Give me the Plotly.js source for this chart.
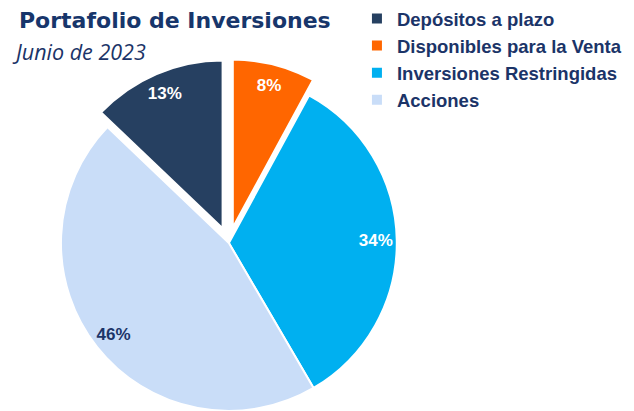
<!DOCTYPE html>
<html>
<head>
<meta charset="utf-8">
<script src="https://cdn.plot.ly/plotly-3.0.1.min.js"></script>
<style>
  html, body { margin: 0; padding: 0; overflow: hidden; background: #fff; }
</style>
</head>
<body>
<div id="chart" style="width:634px;height:440px;"></div>
<script>
document.addEventListener("DOMContentLoaded", function() {
    // Portafolio a junio 2023 (%)
    const categorias = ['Depósitos a plazo', 'Disponibles para la Venta', 'Inversiones Restringidas', 'Acciones'];
    const porcentajes = [13, 8, 34, 46];
    const colores = ['#264061', '#FF6600', '#00B0F0', '#C9DDF8'];
    const coloresTexto = ['#ffffff', '#ffffff', '#ffffff', '#1B3468'];
    const separados = [0.095, 0.095, 0, 0];

    const total = porcentajes.reduce((a, b) => a + b, 0);
    // el primer sector termina en las 12
    const rotacion = -porcentajes[0] / total * 360;
    const dominio = { x: [0.071, 0.651], y: [0.0295, 0.866] };

    const torta = {
        type: 'pie',
        labels: categorias,
        values: porcentajes,
        sort: false,
        direction: 'clockwise',
        rotation: rotacion,
        pull: separados,
        marker: { colors: colores, line: { color: '#ffffff', width: 2 } },
        textinfo: 'none',
        hoverinfo: 'label+percent',
        domain: dominio
    };

    // misma torta transparente con hueco, solo para poner las etiquetas cerca del borde
    const etiquetas = {
        type: 'pie',
        labels: categorias,
        values: porcentajes,
        sort: false,
        direction: 'clockwise',
        rotation: rotacion,
        pull: separados,
        hole: 0.75,
        showlegend: false,
        marker: { colors: colores.map(() => 'rgba(0,0,0,0)'), line: { width: 0 } },
        texttemplate: '%{value}%',
        textposition: 'inside',
        insidetextorientation: 'horizontal',
        textfont: { family: 'Liberation Sans, Arial, sans-serif', size: 17, color: coloresTexto, weight: 'bold' },
        hoverinfo: 'skip',
        domain: dominio
    };

    const layout = {
        width: 634,
        height: 440,
        margin: { l: 0, r: 0, t: 0, b: 0 },
        paper_bgcolor: '#ffffff',
        showlegend: true,
        legend: {
            x: 0.563, y: 1, xanchor: 'left', yanchor: 'top',
            traceorder: 'normal',
            font: { family: 'Liberation Sans, Arial, sans-serif', size: 18.5, color: '#1B3468', weight: 'bold' }
        },
        annotations: [
            {
                text: 'Portafolio de Inversiones',
                xref: 'paper', yref: 'paper', x: 17 / 634, y: 1 - 6 / 440,
                xanchor: 'left', yanchor: 'top', showarrow: false,
                font: { family: 'DejaVu Sans, sans-serif', size: 22, color: '#17366B', weight: 'bold' }
            },
            {
                text: '<i>Junio de 2023</i>',
                xref: 'paper', yref: 'paper', x: 10 / 634, y: 1 - 35 / 440,
                xanchor: 'left', yanchor: 'top', showarrow: false,
                font: { family: 'Open Sans, sans-serif', size: 21.5, color: '#1B3468' }
            }
        ]
    };

    Plotly.newPlot('chart', [torta, etiquetas], layout, { displayModeBar: false, staticPlot: true });
});
</script>
</body>
</html>
